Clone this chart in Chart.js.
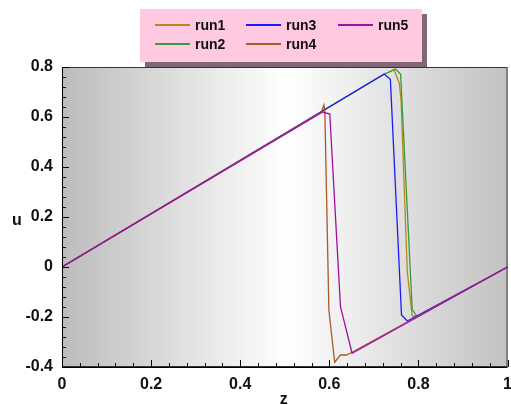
<!DOCTYPE html>
<html>
<head>
<meta charset="utf-8">
<script src="https://cdn.jsdelivr.net/npm/chart.js@4"></script>
<style>
  html, body { margin: 0; padding: 0; background: #fff; overflow: hidden; }
  #wrap { position: relative; width: 511px; height: 405px; overflow: hidden; }
  #plot { position: absolute; left: 0; top: 0; }
  #legend {
    position: absolute; left: 140px; top: 9px; width: 282px; height: 53px;
    background: #ffc9e1; box-shadow: 5px 5px 0 #806676;
    font: bold 14px "Liberation Sans", Arial, sans-serif; color: #111;
  }
  .item { position: absolute; height: 16px; line-height: 16px; }
  .item .swatch { position: absolute; left: 0; top: 7px; height: 2px; }
  .item .label { position: absolute; top: 0; white-space: nowrap; }
</style>
</head>
<body>
<div id="wrap">
  <canvas id="plot" width="520" height="405"></canvas>
  <div id="legend"></div>
</div>
<script>
// ── data ────────────────────────────────────────────────
const runNames  = ["run1", "run2", "run3", "run4", "run5"];
const runColors = ["#b08a1e", "#3a9a3a", "#1a1aff", "#a85a28", "#a010a0"];

const zRun1 = [0, 0.722, 0.745, 0.757, 0.761, 0.775, 0.786, 0.797, 1];
const uRun1 = [0, 0.770, 0.789, 0.735, 0.668, -0.02, -0.196, -0.198, 0];

const zRun2 = [0, 0.722, 0.749, 0.760, 0.786, 0.797, 1];
const uRun2 = [0, 0.770, 0.792, 0.771, -0.170, -0.198, 0];

const zRun3 = [0, 0.723, 0.737, 0.762, 0.775, 1];
const uRun3 = [0, 0.772, 0.751, -0.192, -0.216, 0];

const zRun4 = [0, 0.582, 0.588, 0.590, 0.599, 0.612, 0.625, 0.638, 0.649, 1];
const uRun4 = [0, 0.620, 0.648, 0.616, -0.172, -0.381, -0.352, -0.352, -0.343, 0];

const zRun5 = [0, 0.585, 0.601, 0.625, 0.651, 1];
const uRun5 = [0, 0.620, 0.612, -0.159, -0.345, 0];

const xTicks = [0, 0.2, 0.4, 0.6, 0.8, 1];
const yTicks = [-0.4, -0.2, 0, 0.2, 0.4, 0.6, 0.8];

const runZ = [zRun1, zRun2, zRun3, zRun4, zRun5];
const runU = [uRun1, uRun2, uRun3, uRun4, uRun5];

const FONT = "'Liberation Sans', Arial, sans-serif";

// ── legend (3 columns, filled top-down) ─────────────────
const legendSlots = [
  { x: 15,  y: 8 }, { x: 15,  y: 27 },
  { x: 106, y: 8 }, { x: 106, y: 27 },
  { x: 198, y: 8 },
];
const legend = document.getElementById("legend");
runNames.forEach((name, i) => {
  const it = document.createElement("div");
  it.className = "item";
  it.style.left = legendSlots[i].x + "px";
  it.style.top  = legendSlots[i].y + "px";
  it.innerHTML =
    `<span class="swatch" style="width:35px;background:${runColors[i]}"></span>` +
    `<span class="label" style="left:40px">${name}</span>`;
  legend.appendChild(it);
});

// ── plot background / frame / inward ticks ──────────────
const framePlugin = {
  id: "frame",
  beforeDatasetsDraw(chart) {
    const { ctx, chartArea: a } = chart;
    const g = ctx.createLinearGradient(a.left, 0, a.right, 0);
    g.addColorStop(0, "#bcbcbc");
    g.addColorStop(0.505, "#ffffff");
    g.addColorStop(1, "#c2c2c2");
    ctx.save();
    ctx.fillStyle = g;
    ctx.fillRect(a.left, a.top, a.right - a.left, a.bottom - a.top);
    ctx.restore();
  },
  afterDatasetsDraw(chart) {
    const { ctx, chartArea: a, scales } = chart;
    const xs = scales.x, ys = scales.y;
    ctx.save();
    ctx.lineWidth = 1;
    ctx.strokeStyle = "#333";
    ctx.strokeRect(a.left + 0.5, a.top + 0.5, a.right - a.left - 1, a.bottom - a.top - 1);

    ctx.strokeStyle = "#000";
    ctx.beginPath();
    ctx.moveTo(a.left + 0.5, a.top);
    ctx.lineTo(a.left + 0.5, a.bottom + 0.5);
    ctx.lineTo(a.right, a.bottom + 0.5);
    // x ticks: 4 minor between majors
    for (let i = 0; i < xTicks.length; i++) {
      const v = xTicks[i];
      const px = Math.round(xs.getPixelForValue(v)) + 0.5;
      ctx.moveTo(px, a.bottom); ctx.lineTo(px, a.bottom - 7);
      if (i < xTicks.length - 1) {
        const step = (xTicks[i + 1] - v) / 5;
        for (let k = 1; k < 5; k++) {
          const mx = Math.round(xs.getPixelForValue(v + k * step)) + 0.5;
          ctx.moveTo(mx, a.bottom); ctx.lineTo(mx, a.bottom - 4);
        }
      }
    }
    // y ticks
    for (let i = 0; i < yTicks.length; i++) {
      const v = yTicks[i];
      const py = Math.round(ys.getPixelForValue(v)) + 0.5;
      ctx.moveTo(a.left, py); ctx.lineTo(a.left + 7, py);
      if (i < yTicks.length - 1) {
        const step = (yTicks[i + 1] - v) / 5;
        for (let k = 1; k < 5; k++) {
          const my = Math.round(ys.getPixelForValue(v + k * step)) + 0.5;
          ctx.moveTo(a.left, my); ctx.lineTo(a.left + 4, my);
        }
      }
    }
    ctx.stroke();

    // axis titles
    ctx.fillStyle = "#111";
    ctx.font = `bold 16px ${FONT}`;
    ctx.textAlign = "center";
    ctx.textBaseline = "alphabetic";
    ctx.fillText("z", (a.left + a.right) / 2 - 1, 404);
    ctx.fillText("u", 17, 225);
    ctx.restore();
  },
};

// ── chart ───────────────────────────────────────────────
const datasets = runNames.map((name, i) => ({
  label: name,
  data: runZ[i].map((z, j) => ({ x: z, y: runU[i][j] })),
  borderColor: runColors[i],
  borderWidth: 1.3,
  pointRadius: 0,
  tension: 0,
  fill: false,
  order: runNames.length - i,   // run5 on top
}));

const tickFont = { family: FONT, size: 16, weight: "bold" };

new Chart(document.getElementById("plot"), {
  type: "line",
  data: { datasets },
  plugins: [framePlugin],
  options: {
    responsive: false,
    animation: false,
    devicePixelRatio: 1,
    layout: { padding: { left: 0, top: 67, right: 9, bottom: 0 } },
    plugins: { legend: { display: false }, tooltip: { enabled: false } },
    scales: {
      x: {
        type: "linear", min: 0, max: 1,
        afterBuildTicks: (s) => { s.ticks = xTicks.map((v) => ({ value: v })); },
        afterFit: (s) => { s.height = 38; },
        grid: { display: false, drawTicks: false },
        border: { display: false },
        ticks: { color: "#111", font: tickFont, padding: 8, maxRotation: 0,
                 callback: (v) => String(v) },
      },
      y: {
        type: "linear", min: -0.4, max: 0.8,
        afterBuildTicks: (s) => { s.ticks = yTicks.map((v) => ({ value: v })); },
        afterFit: (s) => { s.width = 62; },
        grid: { display: false, drawTicks: false },
        border: { display: false },
        ticks: { color: "#111", font: tickFont, padding: 9,
                 callback: (v) => String(v) },
      },
    },
  },
});
</script>
</body>
</html>
